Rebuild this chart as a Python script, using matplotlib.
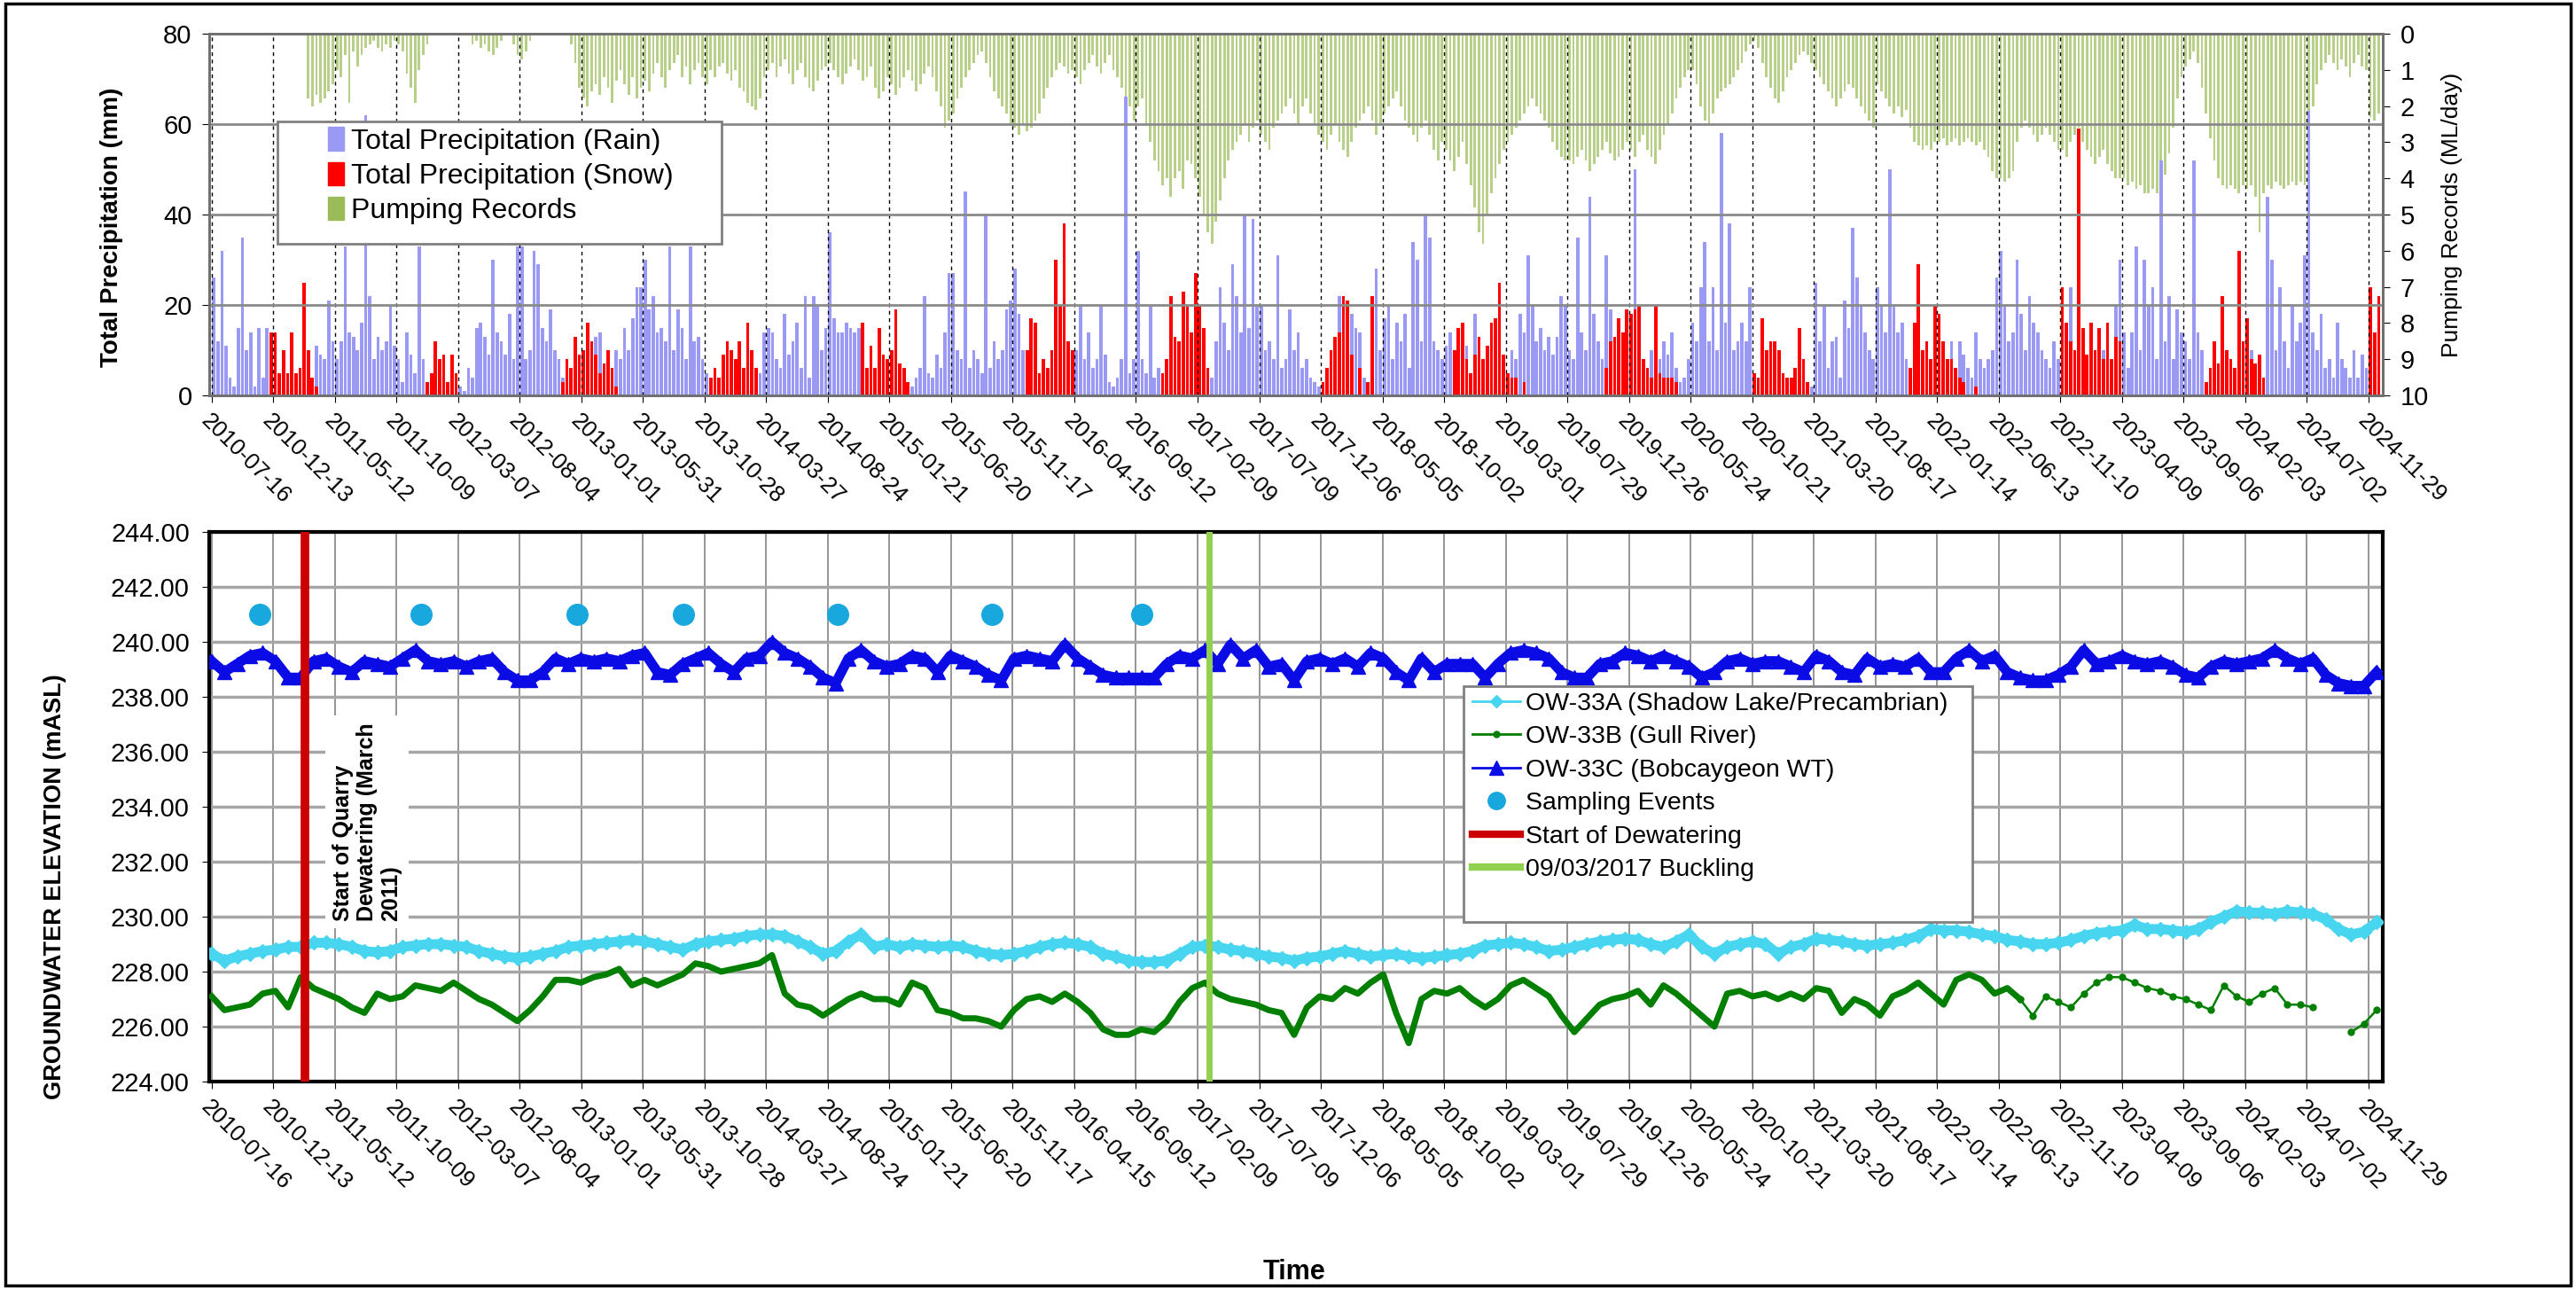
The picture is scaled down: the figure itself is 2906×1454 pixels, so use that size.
import matplotlib
matplotlib.use("Agg")
import matplotlib.pyplot as plt
import matplotlib.dates as mdates
from matplotlib.lines import Line2D
from matplotlib.patches import Patch, Rectangle
import numpy as np
import pandas as pd

plt.rcParams['font.family'] = ['Liberation Sans', 'DejaVu Sans']

# ---- data ----
# precipitation summarised per 10-day block, starting 2010-07-16
rain_mm = [
    26, 12, 32, 11, 4, 2, 15, 35, 10, 14, 2, 15, 4, 15, 5,
    3, 2, 0, 4, 0, 2, 0, 0, 3, 2, 11, 9, 8, 21, 12,
    8, 12, 33, 14, 13, 10, 16, 62, 22, 8, 13, 10, 12, 20, 11,
    8, 3, 14, 9, 5, 33, 8, 3, 0, 0, 2, 0, 0, 0, 2,
    2, 1, 6, 4, 15, 16, 13, 9, 30, 14, 12, 9, 18, 8, 33,
    33, 8, 10, 32, 29, 15, 12, 19, 10, 8, 4, 0, 3, 6, 0,
    4, 0, 8, 13, 14, 0, 4, 5, 10, 8, 15, 10, 17, 24, 24,
    30, 19, 22, 14, 15, 12, 33, 10, 19, 15, 8, 33, 12, 13, 8,
    5, 2, 0, 0, 0, 0, 0, 0, 0, 0, 0, 0, 3, 5, 14,
    15, 14, 8, 6, 18, 9, 12, 16, 6, 22, 4, 22, 20, 10, 15,
    36, 17, 14, 14, 16, 15, 14, 15, 4, 0, 0, 0, 0, 0, 0,
    0, 0, 0, 0, 0, 2, 4, 6, 22, 5, 4, 9, 6, 14, 27,
    27, 10, 8, 45, 6, 10, 8, 5, 40, 6, 12, 8, 10, 19, 21,
    28, 18, 10, 0, 0, 0, 0, 0, 0, 0, 0, 0, 0, 0, 6,
    10, 20, 8, 14, 6, 8, 20, 9, 3, 2, 4, 8, 66, 5, 8,
    32, 8, 5, 20, 4, 6, 2, 0, 0, 0, 0, 0, 0, 0, 0,
    0, 0, 0, 4, 12, 24, 16, 10, 29, 22, 14, 40, 15, 39, 20,
    20, 10, 12, 8, 31, 6, 8, 19, 10, 14, 6, 8, 4, 3, 2,
    0, 0, 0, 3, 22, 0, 0, 18, 15, 14, 4, 0, 0, 28, 10,
    17, 20, 8, 16, 12, 18, 6, 34, 30, 12, 40, 35, 12, 10, 8,
    11, 14, 0, 0, 0, 11, 0, 18, 0, 0, 0, 0, 0, 0, 0,
    0, 10, 8, 18, 14, 31, 20, 12, 15, 10, 13, 9, 13, 22, 20,
    10, 8, 35, 14, 10, 44, 18, 12, 8, 31, 19, 0, 0, 0, 0,
    0, 50, 0, 0, 0, 10, 0, 8, 12, 9, 14, 6, 3, 4, 8,
    16, 12, 24, 34, 12, 24, 10, 58, 16, 38, 10, 12, 16, 12, 24,
    3, 0, 2, 0, 0, 4, 0, 0, 2, 0, 0, 3, 0, 0, 2,
    25, 12, 20, 6, 12, 13, 4, 21, 15, 37, 26, 20, 14, 10, 8,
    24, 20, 14, 50, 20, 14, 16, 8, 0, 0, 0, 0, 0, 0, 0,
    0, 0, 0, 12, 0, 12, 9, 6, 4, 14, 8, 6, 8, 10, 26,
    32, 20, 12, 14, 30, 18, 10, 22, 16, 14, 10, 8, 6, 12, 8,
    4, 0, 24, 0, 6, 0, 8, 0, 5, 0, 10, 0, 6, 20, 30,
    14, 6, 14, 33, 10, 30, 20, 24, 8, 52, 12, 22, 8, 19, 14,
    12, 8, 52, 14, 10, 0, 0, 0, 0, 0, 0, 0, 0, 0, 0,
    0, 10, 0, 0, 0, 44, 30, 10, 24, 12, 6, 20, 12, 16, 31,
    63, 14, 10, 18, 6, 8, 4, 16, 8, 6, 4, 10, 4, 9, 6,
    0, 0, 0,
]
snow_mm = [
    0, 0, 0, 0, 0, 0, 0, 0, 0, 0, 0, 0, 0, 0, 14,
    14, 5, 10, 5, 14, 5, 6, 25, 10, 4, 2, 0, 0, 0, 0,
    0, 0, 0, 0, 0, 0, 0, 0, 0, 0, 0, 0, 0, 0, 0,
    0, 0, 0, 0, 0, 0, 0, 3, 5, 12, 8, 9, 3, 9, 5,
    0, 0, 0, 0, 0, 0, 0, 0, 0, 0, 0, 0, 0, 0, 0,
    0, 0, 0, 0, 0, 0, 0, 0, 0, 0, 3, 8, 6, 13, 9,
    10, 16, 12, 9, 5, 7, 10, 6, 2, 0, 0, 0, 0, 0, 0,
    0, 0, 0, 0, 0, 0, 0, 0, 0, 0, 0, 0, 0, 0, 0,
    0, 4, 6, 4, 9, 12, 10, 8, 12, 6, 16, 10, 6, 0, 0,
    0, 0, 0, 0, 0, 0, 0, 0, 0, 0, 0, 0, 0, 0, 0,
    0, 0, 0, 0, 0, 0, 0, 0, 16, 6, 11, 6, 15, 9, 8,
    10, 19, 7, 6, 3, 0, 0, 0, 0, 0, 0, 0, 0, 0, 0,
    0, 0, 0, 0, 0, 0, 0, 0, 0, 0, 0, 0, 0, 0, 0,
    0, 0, 0, 10, 17, 16, 5, 8, 6, 10, 30, 20, 38, 12, 10,
    0, 0, 0, 0, 0, 0, 0, 0, 0, 0, 0, 0, 0, 0, 0,
    0, 0, 0, 0, 0, 0, 5, 8, 22, 13, 12, 23, 20, 14, 27,
    20, 15, 6, 0, 0, 0, 0, 0, 0, 0, 0, 0, 0, 0, 0,
    0, 0, 0, 0, 0, 0, 0, 0, 0, 0, 0, 0, 0, 0, 0,
    3, 6, 10, 13, 14, 22, 21, 9, 0, 6, 0, 3, 22, 0, 0,
    0, 0, 0, 0, 0, 0, 0, 0, 0, 0, 0, 0, 0, 0, 0,
    0, 0, 10, 15, 16, 8, 5, 9, 13, 8, 11, 16, 17, 25, 9,
    5, 4, 4, 0, 3, 0, 0, 0, 0, 0, 0, 0, 0, 0, 0,
    0, 0, 0, 0, 0, 0, 0, 0, 0, 6, 12, 13, 17, 14, 19,
    18, 19, 20, 8, 6, 4, 20, 5, 4, 4, 4, 3, 0, 0, 0,
    0, 0, 0, 0, 0, 0, 0, 0, 0, 0, 0, 0, 0, 0, 0,
    5, 4, 17, 10, 12, 12, 10, 5, 4, 4, 6, 15, 8, 3, 0,
    0, 0, 0, 0, 0, 0, 0, 0, 0, 0, 0, 0, 0, 0, 0,
    0, 0, 0, 0, 0, 0, 0, 0, 6, 16, 29, 10, 12, 8, 20,
    18, 12, 8, 8, 6, 4, 3, 0, 0, 2, 0, 0, 0, 0, 0,
    0, 0, 0, 0, 0, 0, 0, 0, 0, 0, 0, 0, 0, 0, 0,
    24, 16, 12, 10, 59, 15, 9, 16, 10, 15, 8, 16, 8, 13, 12,
    0, 0, 0, 0, 0, 0, 0, 0, 0, 0, 0, 0, 0, 0, 0,
    0, 0, 0, 0, 0, 3, 6, 12, 7, 22, 10, 8, 6, 32, 12,
    17, 8, 7, 9, 4, 0, 0, 0, 0, 0, 0, 0, 0, 0, 0,
    0, 0, 0, 0, 0, 0, 0, 0, 0, 0, 0, 0, 0, 0, 0,
    24, 14, 22,
]
pumping = [
    0, 0, 0, 0, 0, 0, 0, 0, 0, 0, 0, 0, 0, 0, 0,
    0, 0, 0, 0, 0, 0, 0, 0, 1.8, 2.0, 1.7, 1.9, 1.8, 1.6, 1.4,
    1.0, 1.2, 0.6, 1.9, 0.5, 0.9, 0.6, 0.4, 0.3, 0.2, 0.4, 0.5, 0.3, 0.4, 0.2,
    0.3, 0.5, 1.1, 1.5, 1.9, 1.0, 0.6, 0.3, 0, 0, 0, 0, 0, 0, 0,
    0, 0, 0, 0.3, 0.2, 0.4, 0.3, 0.5, 0.6, 0.4, 0.2, 0, 0, 0.3, 0.6,
    0.7, 0.5, 0.2, 0, 0, 0, 0, 0, 0, 0, 0, 0, 0.3, 0.8, 1.5,
    1.8, 2.0, 1.6, 1.4, 1.7, 1.2, 1.5, 1.9, 1.3, 1.0, 1.4, 1.7, 1.2, 1.8, 1.5,
    1.3, 1.6, 1.1, 0.8, 1.2, 1.5, 1.0, 0.8, 0.6, 1.2, 0.9, 1.4, 1.0, 0.8, 1.2,
    1.4, 1.0, 1.2, 0.9, 0.8, 1.1, 1.3, 1.0, 1.5, 1.6, 1.9, 2.0, 2.1, 1.8, 1.2,
    1.0, 0.8, 1.2, 0.9, 0.7, 1.1, 1.4, 1.0, 0.8, 1.2, 1.5, 1.6, 1.3, 1.0, 0.9,
    0.8, 1.0, 1.2, 1.4, 1.1, 0.9, 0.7, 1.0, 1.3, 1.2, 0.9, 1.5, 1.8, 1.6, 1.2,
    1.4, 1.7, 1.5, 1.2, 1.0, 1.3, 1.6, 1.4, 1.1, 0.9, 1.2, 1.6, 2.0, 2.6, 2.4,
    2.2, 1.8, 1.5, 1.2, 1.0, 0.8, 0.6, 0.5, 0.8, 1.2, 1.6, 1.8, 2.0, 2.2, 2.5,
    2.6, 2.8, 2.5, 2.7, 2.6, 2.4, 2.2, 1.8, 1.5, 1.2, 1.0, 0.8, 0.9, 1.1, 1.0,
    1.2, 1.4, 1.0, 0.8, 0.6, 0.9, 1.1, 0.8, 0.6, 1.0, 1.2, 1.5, 1.8, 2.0, 2.4,
    2.0, 1.8, 2.5, 3.0, 3.5, 3.8, 4.2, 4.0, 4.5, 4.0, 3.8, 4.3, 3.5, 3.6, 4.0,
    4.5, 5.0, 5.5, 5.8, 5.2, 4.6, 4.0, 3.5, 3.2, 3.0, 2.8, 2.5, 3.0, 2.6, 2.4,
    2.8, 3.0, 3.2, 2.6, 2.4, 2.2, 2.0, 1.8, 2.2, 2.5, 2.0, 1.8, 2.2, 2.5, 2.8,
    3.0, 3.2, 2.8, 2.5, 3.0, 3.2, 3.4, 3.0, 2.6, 2.4, 2.2, 2.0, 2.4, 2.8, 2.5,
    2.2, 2.0, 1.8, 1.6, 2.0, 2.4, 2.6, 2.8, 3.0, 2.6, 2.4, 2.8, 3.2, 3.5, 3.0,
    3.2, 3.5, 3.8, 3.4, 3.0, 3.6, 4.2, 4.8, 5.5, 5.8, 5.0, 4.4, 4.0, 3.6, 3.2,
    3.0, 2.8, 2.6, 2.4, 2.2, 2.0, 1.8, 2.0, 2.2, 2.4, 2.6, 3.0, 3.2, 3.4, 3.5,
    3.5, 3.6, 3.4, 3.2, 3.5, 3.8, 3.6, 3.4, 3.2, 3.0, 3.3, 3.5, 3.4, 3.2, 3.0,
    3.2, 3.4, 3.0, 2.8, 3.2, 3.4, 3.6, 3.2, 2.8, 2.5, 2.2, 1.8, 1.5, 1.2, 1.0,
    1.0, 1.4, 2.0, 2.4, 2.5, 2.2, 1.8, 1.6, 1.5, 1.4, 1.2, 1.0, 0.8, 0.5, 0.3,
    0.2, 0.4, 0.8, 1.2, 1.5, 1.8, 1.9, 1.6, 1.2, 1.0, 0.8, 0.6, 0.5, 0.6, 0.8,
    1.0, 1.2, 1.4, 1.6, 1.8, 2.0, 1.8, 1.6, 1.4, 1.5, 1.8, 2.0, 2.2, 2.4, 2.6,
    1.4, 1.6, 1.8, 2.0, 2.2, 2.0, 2.3, 2.1, 2.6, 3.0, 3.1, 3.2, 3.1, 3.2, 3.0,
    3.0, 2.9, 3.1, 3.0, 2.9, 3.1, 3.0, 2.9, 3.0, 3.1, 3.0, 3.2, 3.4, 3.8, 4.0,
    4.0, 4.1, 4.0, 3.8, 3.0, 2.6, 2.4, 2.6, 2.8, 3.0, 2.8, 2.6, 2.8, 3.0, 3.2,
    3.2, 3.4, 3.0, 2.8, 2.6, 3.0, 3.2, 3.4, 3.6, 3.4, 3.2, 3.6, 3.8, 4.0, 4.0,
    4.0, 4.2, 4.1, 4.3, 4.2, 4.4, 4.4, 4.3, 4.4, 4.4, 3.9, 3.3, 2.6, 1.8, 1.2,
    0.9, 0.7, 0.5, 0.8, 1.5, 2.2, 2.9, 3.5, 4.0, 4.2, 4.3, 4.2, 4.3, 4.4, 4.2,
    4.3, 4.2, 4.5, 5.5, 4.4, 4.2, 4.3, 4.1, 4.2, 4.3, 4.2, 4.1, 4.2, 4.1, 4.2,
    4.1, 2.0, 1.4, 1.0, 0.8, 0.6, 0.8, 1.0, 0.7, 0.9, 1.2, 0.8, 0.6, 0.9, 1.0,
    2.3, 2.4, 2.2,
]

# groundwater elevations (mASL), one reading every 31 days from 2010-07-16
ow33a = [
    228.65, 228.4, 228.55, 228.65, 228.75, 228.8, 228.9, 228.9, 229.05, 229.05,
    229.0, 228.9, 228.75, 228.7, 228.75, 228.9, 228.95, 229.0, 229.0, 228.95,
    228.9, 228.75, 228.65, 228.55, 228.5, 228.55, 228.65, 228.75, 228.9, 228.95,
    229.0, 229.05, 229.1, 229.15, 229.1, 229.0, 228.9, 228.8, 229.0, 229.1,
    229.15, 229.2, 229.3, 229.35, 229.35, 229.3, 229.1, 228.9, 228.65, 228.75,
    229.1, 229.35, 228.9, 229.0, 228.9, 229.0, 228.95, 228.9, 228.95, 228.9,
    228.75, 228.65, 228.6, 228.65, 228.75, 228.9, 229.0, 229.05, 229.0, 228.9,
    228.65, 228.55, 228.4, 228.35, 228.35, 228.4, 228.65, 228.9, 228.95, 228.9,
    228.8, 228.75, 228.65, 228.55, 228.5, 228.4, 228.5, 228.55, 228.65, 228.75,
    228.65, 228.55, 228.6, 228.65, 228.55, 228.5, 228.55, 228.6, 228.65, 228.75,
    228.95, 229.0, 229.05, 229.0, 228.9, 228.75, 228.8, 228.9, 229.0, 229.1,
    229.15, 229.2, 229.15, 229.0, 228.9, 229.1, 229.35, 228.9, 228.65, 228.9,
    229.0, 229.1, 229.0, 228.65, 228.9, 229.0, 229.2, 229.15, 229.1, 229.0,
    228.95, 229.0, 229.05, 229.15, 229.3, 229.55, 229.5, 229.5, 229.45, 229.35,
    229.3, 229.15, 229.1, 229.0, 229.0, 229.05, 229.15, 229.3, 229.4, 229.45,
    229.5, 229.7, 229.55, 229.55, 229.5, 229.45, 229.55, 229.8, 230.0, 230.2,
    230.15, 230.15, 230.1, 230.2, 230.15, 230.1, 229.9, 229.55, 229.35, 229.45, 229.8,
]
ow33b = [
    227.1, 226.6, 226.7, 226.8, 227.2, 227.3, 226.7, 227.8, 227.4, 227.2,
    227.0, 226.7, 226.5, 227.2, 227.0, 227.1, 227.5, 227.4, 227.3, 227.6,
    227.3, 227.0, 226.8, 226.5, 226.2, 226.6, 227.1, 227.7, 227.7, 227.6,
    227.8, 227.9, 228.1, 227.5, 227.7, 227.5, 227.7, 227.9, 228.3, 228.2,
    228.0, 228.1, 228.2, 228.3, 228.6, 227.2, 226.8, 226.7, 226.4, 226.7,
    227.0, 227.2, 227.0, 227.0, 226.8, 227.6, 227.4, 226.6, 226.5, 226.3,
    226.3, 226.2, 226.0, 226.6, 227.0, 227.1, 226.9, 227.2, 226.9, 226.5,
    225.9, 225.7, 225.7, 225.9, 225.8, 226.2, 226.9, 227.4, 227.6, 227.2,
    227.0, 226.9, 226.8, 226.6, 226.5, 225.7, 226.7, 227.1, 227.0, 227.4,
    227.2, 227.6, 227.9, 226.5, 225.4, 227.0, 227.3, 227.2, 227.4, 227.0,
    226.7, 227.0, 227.5, 227.7, 227.4, 227.1, 226.4, 225.8, 226.3, 226.8,
    227.0, 227.1, 227.3, 226.8, 227.5, 227.2, 226.8, 226.4, 226.0, 227.2,
    227.3, 227.1, 227.2, 227.0, 227.2, 227.0, 227.4, 227.3, 226.5, 227.0,
    226.8, 226.4, 227.1, 227.3, 227.6, 227.2, 226.8, 227.7, 227.9, 227.7,
    227.2, 227.4, 227.0, 226.4, 227.1, 226.9, 226.7, 227.2, 227.6, 227.8,
    227.8, 227.6, 227.4, 227.3, 227.1, 227.0, 226.8, 226.6, 227.5, 227.1,
    226.9, 227.2, 227.4, 226.8, 226.8, 226.7, np.nan, np.nan, 225.8, 226.1, 226.6,
]
ow33c = [
    239.3, 238.9, 239.2, 239.5, 239.6, 239.3, 238.7, 238.7, 239.3, 239.4,
    239.1, 238.9, 239.3, 239.2, 239.1, 239.4, 239.7, 239.3, 239.2, 239.3,
    239.1, 239.3, 239.4, 238.9, 238.6, 238.6, 238.9, 239.4, 239.2, 239.4,
    239.3, 239.4, 239.3, 239.5, 239.6, 238.9, 238.8, 239.2, 239.4, 239.6,
    239.2, 238.9, 239.4, 239.5, 240.0, 239.6, 239.4, 239.1, 238.7, 238.5,
    239.4, 239.7, 239.3, 239.1, 239.2, 239.5, 239.4, 238.9, 239.5, 239.3,
    239.1, 238.8, 238.6, 239.4, 239.5, 239.4, 239.3, 239.9, 239.4, 239.1,
    238.8, 238.7, 238.7, 238.7, 238.7, 239.2, 239.5, 239.4, 239.7, 239.2,
    239.9, 239.4, 239.7, 239.1, 239.2, 238.6, 239.3, 239.4, 239.2, 239.4,
    239.1, 239.6, 239.4, 238.9, 238.6, 239.4, 238.9, 239.2, 239.2, 239.2,
    238.7, 239.2, 239.6, 239.7, 239.6, 239.4, 238.9, 238.7, 238.7, 239.2,
    239.3, 239.6, 239.5, 239.3, 239.5, 239.3, 239.1, 238.7, 238.9, 239.3,
    239.4, 239.2, 239.3, 239.3, 239.1, 238.9, 239.5, 239.3, 238.9, 238.8,
    239.4, 239.1, 239.2, 239.1, 239.4, 238.9, 238.9, 239.4, 239.7, 239.3,
    239.5, 238.9, 238.7, 238.6, 238.6, 238.8, 239.1, 239.7, 239.2, 239.3,
    239.5, 239.3, 239.2, 239.3, 239.1, 238.8, 238.7, 239.1, 239.3, 239.2,
    239.3, 239.4, 239.7, 239.4, 239.2, 239.4, 238.8, 238.5, 238.4, 238.4, 238.9,
]
sampling_dates = ['2010-11-10', '2011-12-07', '2012-12-22', '2013-09-07',
                  '2014-09-16', '2015-09-28', '2016-09-25']
sampling_elev = [241.0, 241.0, 241.0, 241.0, 241.0, 241.0, 241.0]
dewatering_date = '2011-03-01'
buckling_date = '2017-03-09'

start = pd.Timestamp('2010-07-16')
tick_dates = pd.date_range(start, periods=36, freq='150D')

# ---- colours ----
c_rain = '#9a9af4'
c_snow = '#ff0000'
c_pump = '#9bbb59'
c_a = '#48d5f0'
c_b = '#007f00'
c_c = '#0b0be6'
c_samp = '#18a8de'


def block_x(values, step):
    d = start + pd.to_timedelta(np.arange(len(values)) * step + step / 2.0, unit='D')
    return mdates.date2num(d)


def level_x(values):
    d = start + pd.to_timedelta(np.arange(len(values)) * 31, unit='D')
    return mdates.date2num(d)


xlim = (mdates.date2num(start - pd.Timedelta(days=6)),
        mdates.date2num(start + pd.Timedelta(days=5285)))
xticks = mdates.date2num(tick_dates)

fig = plt.figure(figsize=(29.06, 14.54), dpi=100)
L, W = 236 / 2906, 2452 / 2906
ax1 = fig.add_axes([L, 1 - 446 / 1454, W, 408 / 1454])
ax2 = ax1.twinx()
ax3 = fig.add_axes([L, 1 - 1220 / 1454, W, 620 / 1454])

# ---- top panel: precipitation + pumping ----
ax2.bar(block_x(pumping, 10), pumping, width=6, color=c_pump, alpha=0.7, linewidth=0)
ax2.set_ylim(10, 0)
ax2.set_yticks(range(0, 11))
ax2.tick_params(axis='y', labelsize=21, length=6, pad=8)

ax1.set_zorder(ax2.get_zorder() + 1)
ax1.patch.set_visible(False)
ax1.bar(block_x(rain_mm, 10), rain_mm, width=8, color=c_rain, linewidth=0)
ax1.bar(block_x(snow_mm, 10), snow_mm, width=8, color=c_snow, linewidth=0)
ax1.set_ylim(0, 80)
ax1.set_yticks([0, 20, 40, 60, 80])
ax1.set_xlim(*xlim)
ax1.set_xticks(xticks)
ax1.xaxis.set_major_formatter(mdates.DateFormatter('%Y-%m-%d'))
ax1.tick_params(axis='x', labelsize=18.5, labelrotation=-45, length=6, pad=6)
ax1.tick_params(axis='y', labelsize=21, length=6, pad=8)
plt.setp(ax1.get_xticklabels(), ha='left', va='top', rotation_mode='anchor')
ax1.yaxis.grid(True, color='#8a8a8a', lw=2)
ax1.xaxis.grid(True, color='black', lw=1, ls=(0, (3, 3)))
for ax in (ax1, ax2):
    for s in ax.spines.values():
        s.set_color('#707070')
        s.set_linewidth(2)

ax1.add_patch(Rectangle((0.0314, 0.419), 0.2043, 0.338, transform=ax1.transAxes,
                        facecolor='white', edgecolor='#808080', lw=2, zorder=10))
top_handles = [Patch(color=c_rain), Patch(color=c_snow), Patch(color=c_pump)]
leg1 = ax1.legend(top_handles,
                  ['Total Precipitation (Rain)', 'Total Precipitation (Snow)', 'Pumping Records'],
                  loc='upper left', bbox_to_anchor=(0.0547, 0.742), frameon=False,
                  fontsize=23, handlelength=0.55, handleheight=0.9, handletextpad=0.25,
                  labelspacing=0.25, borderpad=0, borderaxespad=0)
leg1.set_zorder(11)

# ---- bottom panel: groundwater elevations ----
xa = level_x(ow33a)
ax3.plot(xa, ow33a, color=c_a, lw=8, marker='D', ms=8, zorder=3)
xb = level_x(ow33b)
ax3.plot(xb[:143], ow33b[:143], color=c_b, lw=5, zorder=3)
ax3.plot(xb[142:], ow33b[142:], color=c_b, lw=1.8, marker='o', ms=5, zorder=3)
xc = level_x(ow33c)
ax3.plot(xc, ow33c, color=c_c, lw=8, marker='^', ms=11, zorder=3)
ax3.plot(mdates.date2num(pd.to_datetime(sampling_dates)), sampling_elev, 'o',
         color=c_samp, ms=17, zorder=4)
ax3.axvline(mdates.date2num(pd.Timestamp(dewatering_date)), color='#cc0000', lw=7, zorder=4)
ax3.axvline(mdates.date2num(pd.Timestamp(buckling_date)), color='#92d050', lw=5, zorder=4)

ax3.text(mdates.date2num(pd.Timestamp('2011-05-06')), 229.85,
         'Start of Quarry\nDewatering (March\n2011)', rotation=90, ha='left', va='bottom',
         multialignment='left', fontsize=18, fontweight='bold', linespacing=1.15,
         bbox=dict(facecolor='white', edgecolor='none', pad=6), zorder=5)

ax3.set_ylim(224, 244)
ax3.set_yticks(np.arange(224, 245, 2))
ax3.yaxis.set_major_formatter(matplotlib.ticker.FormatStrFormatter('%.2f'))
ax3.set_xlim(*xlim)
ax3.set_xticks(xticks)
ax3.xaxis.set_major_formatter(mdates.DateFormatter('%Y-%m-%d'))
ax3.tick_params(axis='x', labelsize=18.5, labelrotation=-45, length=6, pad=6)
ax3.tick_params(axis='y', labelsize=21, length=6, pad=10)
plt.setp(ax3.get_xticklabels(), ha='left', va='top', rotation_mode='anchor')
ax3.set_axisbelow(True)
ax3.yaxis.grid(True, color='#a6a6a6', lw=2.5)
ax3.xaxis.grid(True, color='#8c8c8c', lw=1.3)
for s in ax3.spines.values():
    s.set_color('black')
    s.set_linewidth(3)

ax3.add_patch(Rectangle((0.577, 0.29), 0.234, 0.43, transform=ax3.transAxes,
                        facecolor='white', edgecolor='#808080', lw=2, zorder=10))
bot_handles = [
    Line2D([], [], color=c_a, lw=2, marker='D', ms=7),
    Line2D([], [], color=c_b, lw=2, marker='o', ms=5),
    Line2D([], [], color=c_c, lw=2, marker='^', ms=11),
    Line2D([], [], color=c_samp, ls='none', marker='o', ms=14),
    Line2D([], [], color='#cc0000', lw=6),
    Line2D([], [], color='#92d050', lw=6),
]
leg2 = ax3.legend(bot_handles,
                  ['OW-33A (Shadow Lake/Precambrian)', 'OW-33B (Gull River)',
                   'OW-33C (Bobcaygeon WT)', 'Sampling Events', 'Start of Dewatering',
                   '09/03/2017 Buckling'],
                  loc='upper left', bbox_to_anchor=(0.5812, 0.708), frameon=False,
                  fontsize=20.5, handlelength=1.9, handletextpad=0.2, labelspacing=0.4,
                  borderpad=0, borderaxespad=0)
leg2.set_zorder(11)

# ---- axis titles ----
fig.text(126 / 2906, 1 - 256 / 1454, 'Total Precipitation (mm)', rotation=90,
         ha='center', va='center', fontsize=20, fontweight='bold')
fig.text(2766 / 2906, 1 - 242 / 1454, 'Pumping Records (ML/day)', rotation=90,
         ha='center', va='center', fontsize=19)
fig.text(62 / 2906, 1 - 1000 / 1454, 'GROUNDWATER ELEVATION (mASL)', rotation=90,
         ha='center', va='center', fontsize=19.5, fontweight='bold')
fig.text(1460 / 2906, 1 - 1435 / 1454, 'Time', ha='center', va='center',
         fontsize=22, fontweight='bold')

fig.patches.append(Rectangle((0.002, 0.003), 0.996, 0.994, transform=fig.transFigure,
                             fill=False, edgecolor='black', lw=2.5))

fig.savefig('out.png', dpi=100)
